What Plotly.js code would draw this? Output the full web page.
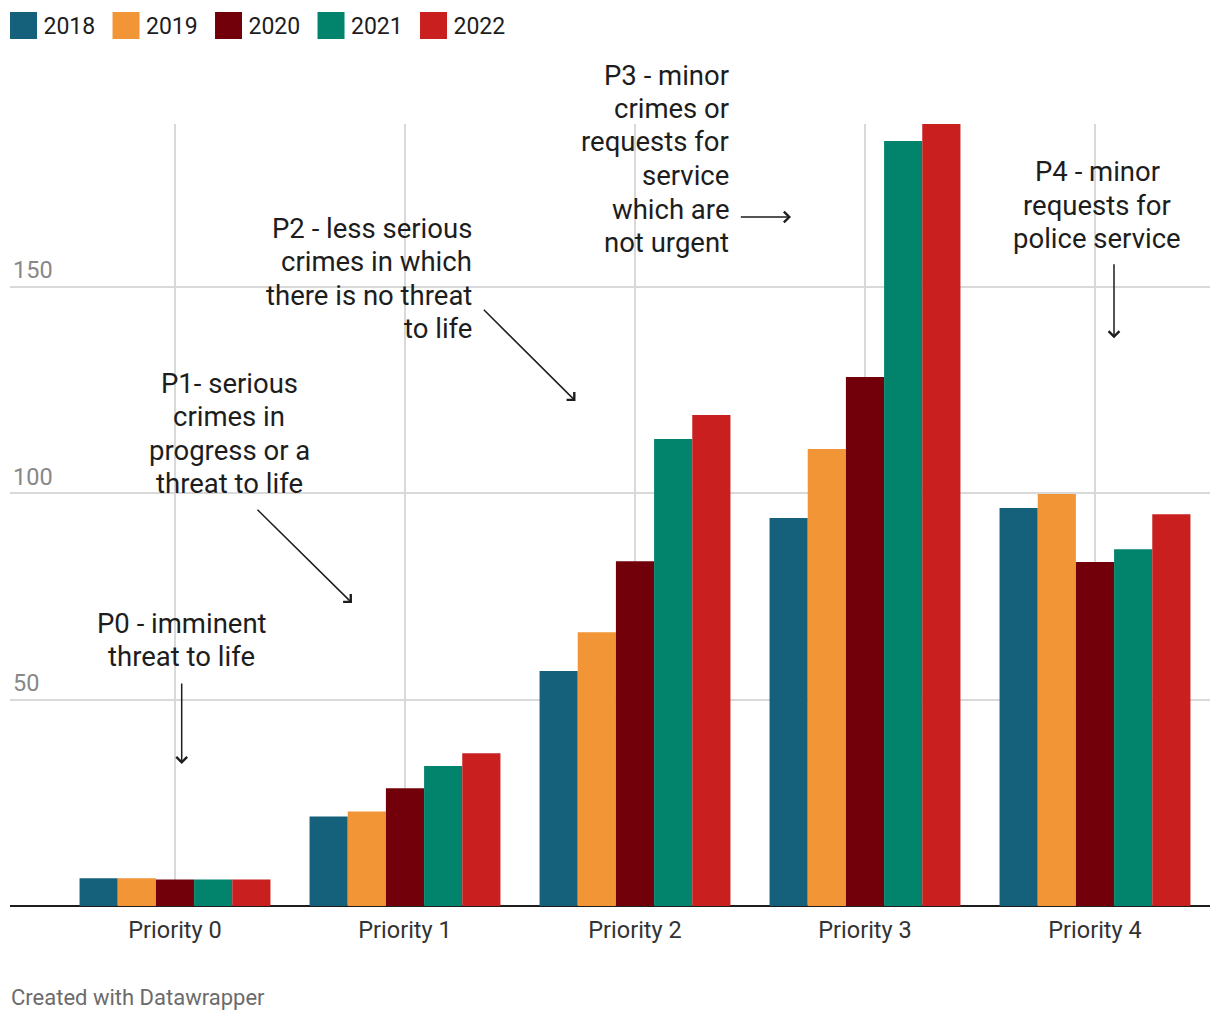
<!DOCTYPE html>
<html>
<head>
<meta charset="utf-8">
<script src="https://cdn.plot.ly/plotly-3.0.1.min.js"></script>
<style>
html,body{margin:0;padding:0;background:#fff;}
#chart{width:1220px;height:1020px;}
</style>
</head>
<body>
<div id="chart"></div>
<script>
const categories = ["Priority 0", "Priority 1", "Priority 2", "Priority 3", "Priority 4"];
const years = ["2018", "2019", "2020", "2021", "2022"];
const v2018 = [6.7, 21.7, 56.9, 94.0, 96.4];
const v2019 = [6.7, 22.9, 66.3, 110.7, 99.8];
const v2020 = [6.4, 28.5, 83.5, 128.1, 83.3];
const v2021 = [6.4, 33.9, 113.1, 185.3, 86.4];
const v2022 = [6.4, 37.0, 118.9, 189.4, 94.9];
const seriesValues = [v2018, v2019, v2020, v2021, v2022];
const colors = ["#15607a", "#f19537", "#72000a", "#01836c", "#c91f1f"];
const yTicks = [50, 100, 150];

const noteP0 = ["P0 - imminent", "threat to life"];
const noteP1 = ["P1- serious", "crimes in", "progress or a", "threat to life"];
const noteP2 = ["P2 - less serious", "crimes in which", "there is no threat", "to life"];
const noteP3 = ["P3 - minor", "crimes or", "requests for", "service", "which are", "not urgent"];
const noteP4 = ["P4 - minor", "requests for", "police service"];
const footer = "Created with Datawrapper";

const FONT = "Roboto, 'Noto Sans', sans-serif";
const TXT = "#1d1d1d";

const traces = years.map((y, i) => ({
  type: "bar",
  name: y,
  x: categories,
  y: seriesValues[i],
  marker: {color: colors[i], line: {width: 0}},
  hoverinfo: "skip"
}));

// plot area: x 10..1210, y 124..906
const px = p => (p - 10) / 1200;
const py = p => (906 - p) / 782;
const LINE = 33.5;

function textBlock(lines, x, yFirst, anchor) {
  return lines.map((t, k) => ({
    xref: "paper", yref: "paper", x: px(x), y: py(yFirst + k * LINE), text: t,
    showarrow: false, xanchor: anchor, yanchor: "middle", align: anchor,
    borderpad: 0, font: {family: FONT, size: 27.5, color: TXT}
  }));
}
function arrowAnn(tx, ty, sx, sy) {
  return {xref: "paper", yref: "paper", x: px(tx), y: py(ty), text: "",
    showarrow: true, ax: sx - tx, ay: sy - ty, axref: "pixel", ayref: "pixel",
    arrowhead: 4, arrowsize: 1.4, arrowwidth: 1.5, arrowcolor: TXT, standoff: 0, startstandoff: 0};
}

const annotations = [].concat(
  textBlock(noteP0, 181.7, 623.3, "center"),
  [arrowAnn(181.7, 764, 181.7, 682)],
  textBlock(noteP1, 229.2, 383.3, "center"),
  [arrowAnn(352, 603, 256, 508.3)],
  textBlock(noteP2, 473, 228.3, "right"),
  [arrowAnn(575.5, 401, 482.3, 308.3)],
  textBlock(noteP3, 730, 75, "right"),
  [arrowAnn(791, 217, 739.3, 217)],
  textBlock(noteP4, 1097.2, 171.7, "center"),
  [arrowAnn(1114, 338.3, 1114, 262.7)],
  [{xref: "paper", yref: "paper", x: 0, y: py(997), text: footer, showarrow: false,
    xanchor: "left", yanchor: "middle", borderpad: 0, font: {family: FONT, size: 22, color: "#6b6b6b"}}]
);

const layout = {
  width: 1220, height: 1020,
  margin: {l: 10, r: 10, t: 124, b: 114, pad: 0, autoexpand: false},
  paper_bgcolor: "#ffffff", plot_bgcolor: "#ffffff",
  font: {family: FONT, color: TXT},
  barmode: "group", bargap: 0.17, bargroupgap: 0,
  showlegend: true,
  legend: {orientation: "h", x: -0.0054, y: 1.1535, xanchor: "left", yanchor: "top",
    font: {family: FONT, size: 23, color: TXT}, itemwidth: 30, tracegroupgap: 0,
    entrywidth: 57.5, entrywidthmode: "pixels", bgcolor: "rgba(0,0,0,0)"},
  xaxis: {type: "category", range: [-0.7174, 4.5], showgrid: true, gridcolor: "#d9d9d9", gridwidth: 2,
    showline: false, zeroline: false, ticks: "outside", ticklen: 3, tickcolor: "rgba(0,0,0,0)",
    tickfont: {family: FONT, size: 23.5, color: "#333333"}, fixedrange: true},
  yaxis: {range: [0, 189.4], tickvals: yTicks, showgrid: true, gridcolor: "#d9d9d9", gridwidth: 2,
    zeroline: true, zerolinecolor: "#1d1d1d", zerolinewidth: 2.5, showline: false, ticks: "",
    ticklabelposition: "inside top", tickfont: {family: FONT, size: 23.5, color: "#888888"}, fixedrange: true},
  annotations: annotations
};

Plotly.newPlot("chart", traces, layout, {displayModeBar: false, staticPlot: true}).then(() => {
  document.querySelectorAll("#chart .legend .legendpoints path").forEach(p => {
    const t = p.getAttribute("transform") || "";
    p.setAttribute("transform", t + " scale(2.25)");
  });
});
</script>
</body>
</html>
